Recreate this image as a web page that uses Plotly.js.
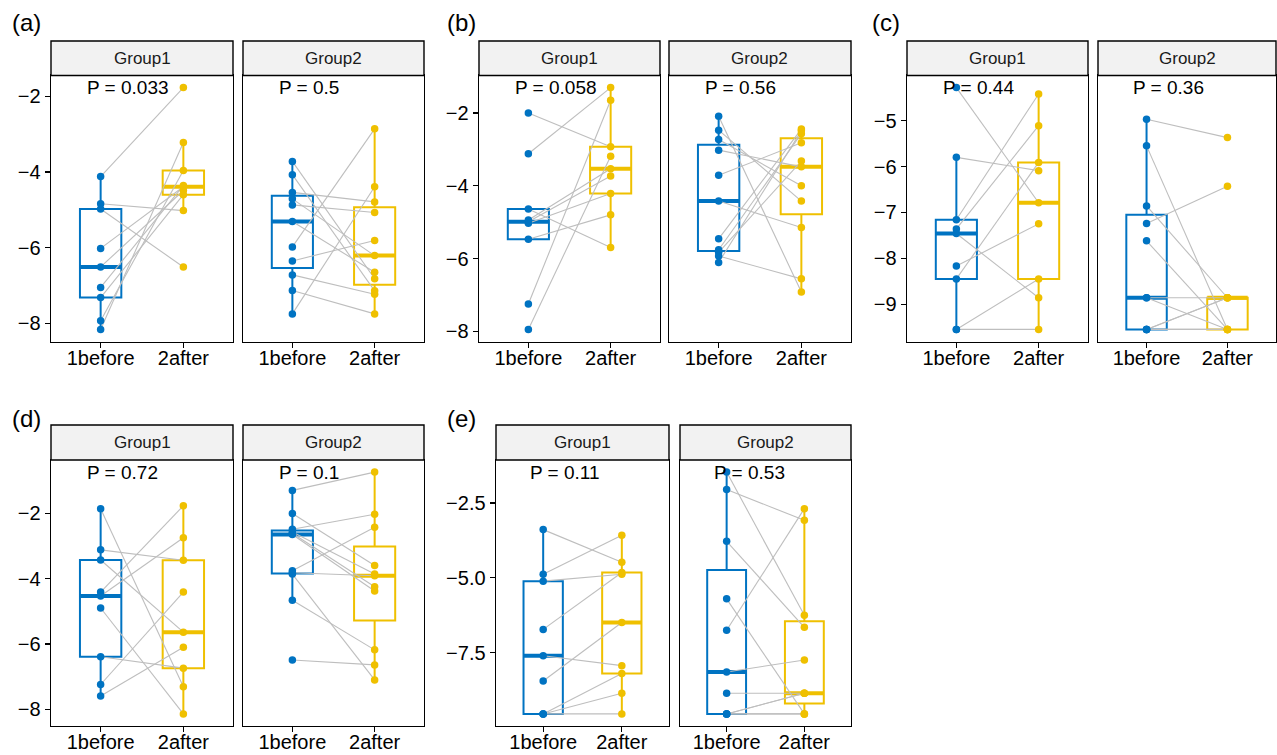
<!DOCTYPE html>
<html><head><meta charset="utf-8">
<script src="https://cdn.plot.ly/plotly-3.0.1.min.js"></script>
<style>html,body{margin:0;padding:0;background:#fff}#chart{width:1277px;height:755px}</style>
</head><body><div id="chart"></div>
<script>
// ---------- data ----------
const categories = ['1before', '2after'];
const groups = ['Group1', 'Group2'];
const panelTags = ['(a)', '(b)', '(c)', '(d)', '(e)'];

const aGroup1Before = [-4.12, -4.84, -4.98, -6.02, -6.51, -7.05, -7.32, -7.93, -8.16];
const aGroup1After  = [-1.77, -5.02, -6.51, -4.39, -4.49, -4.36, -4.60, -3.96, -3.22];
const aGroup2Before = [-3.72, -4.07, -4.54, -4.71, -4.87, -5.31, -5.98, -6.35, -6.72, -7.13, -7.75];
const aGroup2After  = [-6.82, -7.14, -4.79, -6.21, -5.07, -6.65, -2.86, -5.81, -7.23, -7.75, -4.39];

const bGroup1Before = [-2.00, -3.12, -4.64, -5.47, -4.94, -4.99, -5.03, -7.25, -7.95];
const bGroup1After  = [-2.93, -1.30, -5.70, -4.80, -3.53, -3.73, -4.21, -1.65, -3.19];
const bGroup2Before = [-2.09, -2.47, -2.73, -3.02, -3.71, -4.42, -5.46, -5.76, -5.83, -5.93, -6.11];
const bGroup2After  = [-6.92, -4.42, -4.00, -3.48, -2.82, -5.15, -2.44, -2.57, -3.32, -6.56, -2.49];

const cGroup1Before = [-4.28, -5.80, -7.16, -7.36, -7.46, -8.17, -8.45, -9.55, -9.55];
const cGroup1After  = [-6.79, -6.09, -4.42, -5.11, -8.86, -7.25, -5.91, -9.55, -8.45];
const cGroup2Before = [-4.97, -5.55, -6.86, -7.24, -7.62, -8.86, -8.86, -9.55, -9.55, -9.55, -9.55];
const cGroup2After  = [-5.37, -9.55, -8.86, -6.43, -9.55, -9.55, -8.86, -8.86, -8.86, -9.55, -9.55];

const dGroup1Before = [-1.86, -3.12, -3.43, -4.41, -4.53, -4.90, -6.39, -7.24, -7.59];
const dGroup1After  = [-7.31, -3.44, -5.64, -1.77, -2.75, -8.14, -6.74, -4.41, -6.10];
const dGroup2Before = [-1.30, -2.01, -2.49, -2.57, -2.61, -2.65, -3.76, -3.82, -3.86, -4.66, -6.49];
const dGroup2After  = [-0.74, -3.60, -2.03, -3.86, -4.25, -4.38, -2.43, -3.91, -7.10, -6.18, -6.64];

const eGroup1Before = [-3.39, -4.88, -5.11, -6.72, -7.60, -8.44, -9.54, -9.54, -9.54];
const eGroup1After  = [-4.48, -3.58, -4.88, -4.82, -7.93, -6.49, -8.19, -8.85, -9.54];
const eGroup2Before = [-1.47, -2.05, -3.78, -5.70, -6.75, -8.14, -8.85, -9.54, -9.54, -9.54, -9.54];
const eGroup2After  = [-6.25, -3.08, -6.65, -9.54, -2.69, -7.74, -8.85, -8.85, -8.85, -9.54, -9.54];

const pLabelsA = ['P = 0.033', 'P = 0.5'];
const pLabelsB = ['P = 0.058', 'P = 0.56'];
const pLabelsC = ['P = 0.44', 'P = 0.36'];
const pLabelsD = ['P = 0.72', 'P = 0.1'];
const pLabelsE = ['P = 0.11', 'P = 0.53'];

const yTicksA = [-8, -6, -4, -2];
const yTicksB = [-8, -6, -4, -2];
const yTicksC = [-9, -8, -7, -6, -5];
const yTicksD = [-8, -6, -4, -2];
const yTicksE = [-7.5, -5, -2.5];

// ---------- assembly ----------
const panels = [
  {g: [[aGroup1Before, aGroup1After], [aGroup2Before, aGroup2After]], p: pLabelsA, ticks: yTicksA, fmt: ''},
  {g: [[bGroup1Before, bGroup1After], [bGroup2Before, bGroup2After]], p: pLabelsB, ticks: yTicksB, fmt: ''},
  {g: [[cGroup1Before, cGroup1After], [cGroup2Before, cGroup2After]], p: pLabelsC, ticks: yTicksC, fmt: ''},
  {g: [[dGroup1Before, dGroup1After], [dGroup2Before, dGroup2After]], p: pLabelsD, ticks: yTicksD, fmt: ''},
  {g: [[eGroup1Before, eGroup1After], [eGroup2Before, eGroup2After]], p: pLabelsE, ticks: yTicksE, fmt: '.1f'}
];

// pixel geometry of each panel (layout, not data)
const W = 1277, H = 755;
const geom = [
  {tag: [10, 22],  f: [[51, 233], [243, 424]],  top: 75.5, bottom: 341.5, strip: 41},
  {tag: [445, 22], f: [[479, 660], [669, 851]], top: 75.5, bottom: 341.5, strip: 41},
  {tag: [870, 22], f: [[907, 1088], [1098, 1276]], top: 75.5, bottom: 341.5, strip: 41},
  {tag: [10, 418], f: [[51, 233], [243, 424]],  top: 460, bottom: 726, strip: 425},
  {tag: [445, 418], f: [[496, 669], [680, 851]], top: 460, bottom: 726, strip: 425}
];

const colors = ['#0073C2', '#EFC000'];
const FONT = 'Liberation Sans, Arial, sans-serif';

function q7(s, p) {
  const h = (s.length - 1) * p, lo = Math.floor(h), hi = Math.ceil(h);
  return s[lo] + (h - lo) * (s[hi] - s[lo]);
}
function stats(v) {
  const s = [...v].sort((a, b) => a - b);
  const q1 = q7(s, 0.25), med = q7(s, 0.5), q3 = q7(s, 0.75), iqr = q3 - q1;
  const lf = Math.min(...s.filter(x => x >= q1 - 1.5 * iqr));
  const uf = Math.max(...s.filter(x => x <= q3 + 1.5 * iqr));
  return {q1, med, q3, lf, uf};
}

const traces = [], shapes = [], annotations = [];
const layout = {
  width: W, height: H, margin: {l: 0, r: 0, t: 0, b: 0},
  paper_bgcolor: '#fff', plot_bgcolor: '#fff', showlegend: false,
  font: {family: FONT, color: '#000'}
};

let k = 0;
panels.forEach((pan, pi) => {
  const G = geom[pi];
  const all = pan.g.flat(2);
  const mn = Math.min(...all), mx = Math.max(...all), r = mx - mn;
  const yr = [mn - 0.05 * r, mx + 0.05 * r];

  annotations.push({xref: 'paper', yref: 'paper', x: G.tag[0] / W, y: 1 - G.tag[1] / H,
    xanchor: 'left', yanchor: 'middle', text: panelTags[pi], showarrow: false,
    font: {size: 24, family: FONT, color: '#000'}});

  pan.g.forEach((pair, gi) => {
    k += 1;
    const s = k === 1 ? '' : String(k);
    const xa = 'x' + s, ya = 'y' + s;
    const [x0, x1] = G.f[gi];
    layout['xaxis' + s] = {
      domain: [x0 / W, x1 / W], anchor: ya, range: [-0.6, 1.6],
      tickmode: 'array', tickvals: [0, 1], ticktext: categories,
      ticks: 'outside', ticklen: 5, tickwidth: 1.2, tickcolor: '#000',
      ticklabelstandoff: -7,
      showline: true, mirror: true, linecolor: '#000', linewidth: 1.4,
      showgrid: false, zeroline: false, fixedrange: true,
      tickfont: {size: 20, family: FONT, color: '#000'}
    };
    layout['yaxis' + s] = {
      domain: [1 - G.bottom / H, 1 - G.top / H], anchor: xa, range: yr,
      tickmode: 'array', tickvals: pan.ticks, tickformat: pan.fmt,
      ticks: gi === 0 ? 'outside' : '', ticklen: 5, tickwidth: 1.2, tickcolor: '#000',
      showticklabels: gi === 0,
      showline: true, mirror: true, linecolor: '#000', linewidth: 1.4,
      showgrid: false, zeroline: false, fixedrange: true,
      tickfont: {size: 20, family: FONT, color: '#000'}
    };

    // strip
    shapes.push({type: 'rect', xref: 'paper', yref: 'paper',
      x0: x0 / W, x1: x1 / W, y0: 1 - G.top / H, y1: 1 - G.strip / H,
      fillcolor: '#F2F2F2', line: {color: '#000', width: 1.4}});
    annotations.push({xref: 'paper', yref: 'paper', x: (x0 + x1) / 2 / W,
      y: 1 - (G.strip + G.top) / 2 / H, xanchor: 'center', yanchor: 'middle',
      text: groups[gi], showarrow: false, font: {size: 17, family: FONT, color: '#1a1a1a'}});

    // boxes
    pair.forEach((vals, ci) => {
      const st = stats(vals);
      traces.push({type: 'box', x: [ci], q1: [st.q1], median: [st.med], q3: [st.q3],
        lowerfence: [st.lf], upperfence: [st.uf], width: 0.5, whiskerwidth: 0,
        boxpoints: false, fillcolor: 'rgba(255,255,255,0)',
        line: {color: colors[ci], width: 2}, xaxis: xa, yaxis: ya, hoverinfo: 'skip'});
      traces.push({type: 'scatter', mode: 'lines', x: [ci - 0.25, ci + 0.25], y: [st.med, st.med],
        line: {color: colors[ci], width: 4}, xaxis: xa, yaxis: ya, hoverinfo: 'skip'});
    });

    // paired lines
    const lx = [], ly = [];
    pair[0].forEach((b, i) => { lx.push(0, 1, null); ly.push(b, pair[1][i], null); });
    traces.push({type: 'scatter', mode: 'lines', x: lx, y: ly, connectgaps: false,
      line: {color: '#BEBEBE', width: 1.1}, xaxis: xa, yaxis: ya, hoverinfo: 'skip'});

    // points
    pair.forEach((vals, ci) => {
      traces.push({type: 'scatter', mode: 'markers', x: vals.map(() => ci), y: vals,
        marker: {color: colors[ci], size: 7.5}, xaxis: xa, yaxis: ya, hoverinfo: 'skip'});
    });

    // p-value label
    annotations.push({xref: xa, yref: ya, x: -0.19, y: mx, xanchor: 'left', yanchor: 'middle',
      text: pan.p[gi], showarrow: false, font: {size: 19, family: FONT, color: '#000'}});
  });
});

layout.shapes = shapes;
layout.annotations = annotations;
Plotly.newPlot('chart', traces, layout, {staticPlot: true, displayModeBar: false});
</script>
</body></html>
